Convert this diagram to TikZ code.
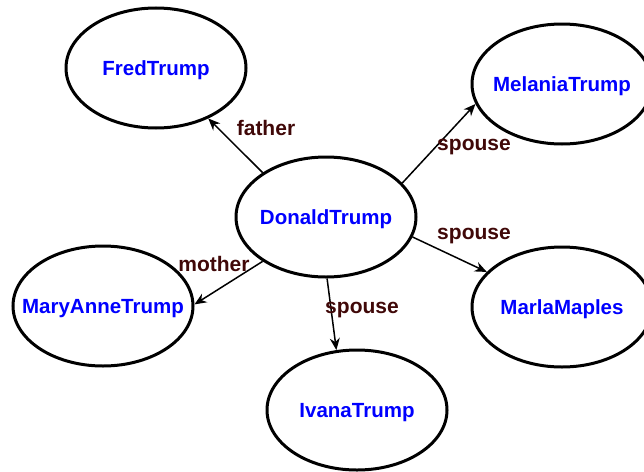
\documentclass[tikz,border=0pt]{standalone}
\usepackage{fontspec}
\setmainfont{Liberation Sans}
\usetikzlibrary{shapes.geometric,arrows.meta}
\definecolor{namecol}{RGB}{0,0,255}
\definecolor{labcol}{RGB}{64,8,8}
\tikzset{
  person/.style={ellipse, draw=black, line width=3pt, minimum width=180pt, minimum height=120pt,
    inner xsep=-25pt, inner ysep=0pt, text depth=0pt,
    text=namecol, font=\fontsize{20.5}{22}\selectfont\bfseries},
  rel/.style={draw=black, line width=1.5pt, -{Stealth[length=12pt,width=10pt]}},
  lab/.style={text=labcol, font=\fontsize{21}{22}\selectfont\bfseries, inner sep=0pt}
}
\begin{document}
\begin{tikzpicture}[x=1pt,y=-1pt]
\useasboundingbox (0,0) rectangle (644,471);
\node[person] (F) at (156,68) {FredTrump};
\node[person] (M) at (562,84) {MelaniaTrump};
\node[person] (D) at (326,217) {DonaldTrump};
\node[person] (MA) at (103,306) {MaryAnneTrump};
\node[person] (MM) at (562,307) {MarlaMaples};
\node[person] (I) at (357,410) {IvanaTrump};
\draw[rel] (D.145) -- (F.-44);
\draw[rel] (D.24) -- (M.193);
\draw[rel] (D.-13) -- (MM.155);
\draw[rel] (D.-89) -- (I.109);
\draw[rel] (D.215) -- (MA.1);
\node[lab] (lf) at (266,128) {father};
\node[lab] (ls1) at (474,147) {spouse};
\node[lab] (ls2) at (474,236) {spouse};
\node[lab] (ls3) at (362,310) {spouse};
\node[lab] (lm) at (214,264) {mother};
\end{tikzpicture}
\end{document}
